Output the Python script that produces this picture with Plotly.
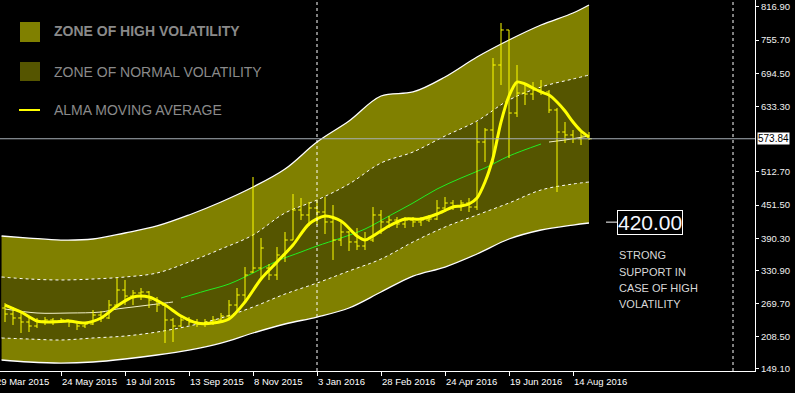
import plotly.graph_objects as go
import pandas as pd

# ---------------- data ----------------
bar_dates = pd.date_range("2015-04-05", periods=74, freq="7D")
bar_open = [261.6, 250.5, 243.2, 235.8, 228.4, 237.6, 239.5, 237.6, 239.5, 235.8,
            228.4, 232.1, 248.7, 243.2, 267.1, 294.8, 283.7, 289.3, 291.1, 276.4,
            267.1, 239.5, 228.4, 239.5, 235.8, 232.1, 235.8, 239.5, 246.8, 267.1,
            285.6, 328.0, 335.4, 335.4, 322.5, 359.4, 387.0, 442.4, 433.2, 446.1,
            438.7, 420.3, 387.0, 401.8, 383.4, 376.0, 387.0, 433.2, 420.3, 423.9,
            416.6, 423.9, 420.3, 423.9, 425.8, 446.1, 455.3, 449.8, 455.3, 447.9,
            567.8, 590.0, 709.9, 774.5, 621.3, 658.2, 656.4, 663.8, 660.1, 626.9,
            586.3, 580.8, 573.8, 578.9]
bar_high = [270.8, 263.4, 252.4, 245.0, 243.2, 245.0, 243.2, 243.2, 239.5, 235.8,
            235.8, 257.9, 256.1, 276.4, 316.9, 313.3, 294.8, 298.5, 293.0, 281.9,
            270.8, 243.2, 246.8, 245.0, 241.3, 241.3, 246.8, 252.4, 276.4, 298.5,
            337.2, 503.3, 390.7, 342.8, 374.1, 401.8, 471.9, 464.5, 457.2, 460.8,
            466.4, 451.6, 422.1, 403.7, 409.2, 401.8, 447.9, 442.4, 431.3, 429.5,
            429.5, 429.5, 429.5, 433.2, 460.8, 466.4, 460.8, 460.8, 464.5, 604.7,
            593.7, 722.8, 787.4, 774.5, 709.9, 673.0, 678.5, 682.2, 663.8, 630.6,
            604.7, 590.0, 590.0, 586.3]
bar_low = [235.8, 230.2, 215.5, 217.3, 224.7, 230.2, 230.2, 233.9, 226.6, 221.0,
           224.7, 230.2, 235.8, 241.3, 261.6, 267.1, 267.1, 276.4, 261.6, 254.2,
           197.0, 198.9, 226.6, 230.2, 226.6, 226.6, 230.2, 233.9, 243.2, 254.2,
           270.8, 326.2, 316.9, 313.3, 313.3, 346.5, 387.0, 423.9, 412.9, 414.7,
           398.1, 350.2, 376.0, 366.8, 368.6, 368.6, 383.4, 398.1, 409.2, 409.2,
           409.2, 411.0, 412.9, 420.3, 423.9, 438.7, 442.4, 440.5, 438.7, 442.4,
           530.9, 529.1, 673.0, 538.3, 614.0, 636.1, 645.3, 654.5, 621.3, 475.6,
           566.0, 566.0, 562.3, 571.5]
bar_close = [250.5, 243.2, 235.8, 228.4, 237.6, 239.5, 237.6, 239.5, 235.8, 228.4,
             232.1, 248.7, 243.2, 267.1, 294.8, 283.7, 289.3, 291.1, 276.4, 267.1,
             239.5, 228.4, 239.5, 235.8, 232.1, 235.8, 239.5, 246.8, 267.1, 285.6,
             322.5, 335.4, 372.3, 322.5, 359.4, 387.0, 442.4, 433.2, 446.1, 438.7,
             420.3, 387.0, 401.8, 383.4, 376.0, 387.0, 433.2, 420.3, 423.9, 416.6,
             423.9, 420.3, 423.9, 425.8, 446.1, 455.3, 449.8, 455.3, 447.9, 567.8,
             590.0, 709.9, 774.5, 621.3, 658.2, 656.4, 663.8, 660.1, 626.9, 586.3,
             580.8, 573.8, 578.9, 573.84]

band_dates = ["2015-04-02", "2015-04-26", "2015-05-24", "2015-06-21", "2015-07-19",
              "2015-08-16", "2015-09-13", "2015-10-11", "2015-11-08", "2015-12-06",
              "2016-01-03", "2016-01-31", "2016-02-28", "2016-03-27", "2016-04-24",
              "2016-05-22", "2016-06-19", "2016-07-17", "2016-08-14", "2016-08-28"]
outer_upper = [394.4, 390.7, 387.0, 388.9, 400.0, 412.9, 433.2, 457.2, 484.8, 518.0,
               567.8, 606.6, 652.7, 660.1, 687.8, 724.6, 756.0, 783.7, 805.8, 820.6]
inner_upper = [318.8, 315.1, 313.3, 315.1, 318.8, 326.2, 346.5, 370.4, 396.3, 436.9,
               460.8, 490.4, 529.1, 549.4, 578.9, 606.6, 645.3, 669.3, 684.1, 691.4]
inner_lower = [206.3, 204.4, 202.6, 206.3, 209.9, 217.3, 228.4, 243.2, 263.4, 287.4,
               307.7, 329.9, 352.0, 383.4, 411.0, 433.2, 455.3, 479.3, 490.4, 494.0]
outer_lower = [165.7, 162.0, 160.1, 162.0, 167.5, 174.9, 184.1, 197.0, 215.5, 232.1,
               245.0, 261.6, 291.1, 320.6, 337.2, 361.2, 388.9, 405.5, 414.7, 418.4]

alma_dates = ["2015-04-05", "2015-04-19", "2015-05-03", "2015-05-17", "2015-05-31",
              "2015-06-14", "2015-06-28", "2015-07-12", "2015-07-26", "2015-08-09",
              "2015-08-23", "2015-09-06", "2015-09-20", "2015-10-04", "2015-10-18",
              "2015-11-01", "2015-11-15", "2015-11-29", "2015-12-13", "2015-12-27",
              "2016-01-10", "2016-01-24", "2016-02-07", "2016-02-14", "2016-02-21",
              "2016-03-06", "2016-03-20", "2016-04-03", "2016-04-17", "2016-05-01",
              "2016-05-08", "2016-05-15", "2016-05-22", "2016-05-29", "2016-06-05",
              "2016-06-12", "2016-06-19", "2016-06-26", "2016-07-03", "2016-07-10",
              "2016-07-17", "2016-07-24", "2016-07-31", "2016-08-07", "2016-08-14",
              "2016-08-21", "2016-08-28"]
alma_values = [267.1, 254.2, 237.6, 235.8, 237.6, 233.9, 243.2, 265.3, 281.9, 281.9,
               267.1, 246.8, 233.9, 233.9, 241.3, 272.7, 315.1, 346.5, 377.8, 416.6,
               431.3, 422.1, 394.4, 387.0, 394.4, 412.9, 425.8, 425.8, 435.0, 447.9,
               449.8, 453.5, 464.5, 494.0, 538.3, 604.7, 652.7, 678.5, 674.8, 667.5,
               660.1, 654.5, 641.6, 625.0, 604.7, 588.1, 577.1]

mid_left_dates = ["2015-04-05", "2015-05-03", "2015-05-31", "2015-06-28", "2015-07-12",
                  "2015-07-26", "2015-08-09", "2015-08-23", "2015-08-30"]
mid_left_values = [259.8, 252.4, 252.4, 254.2, 259.8, 263.4, 267.1, 270.8, 272.7]
mid_green_dates = ["2015-09-06", "2015-09-27", "2015-10-18", "2015-11-08", "2015-11-29",
                   "2015-12-20", "2016-01-03", "2016-01-24", "2016-02-14", "2016-03-06",
                   "2016-03-27", "2016-04-17", "2016-05-08", "2016-05-29", "2016-06-19",
                   "2016-07-17"]
mid_green_values = [280.0, 293.0, 305.9, 326.2, 348.3, 364.9, 376.0, 390.7, 407.3, 431.3,
                    455.3, 481.1, 501.4, 519.9, 542.0, 564.1]
mid_right_dates = ["2016-07-24", "2016-08-07", "2016-08-28"]
mid_right_values = [567.8, 571.5, 578.9]

y_tick_values = [816.90, 755.70, 694.50, 633.30, 512.70, 451.50, 390.30, 330.90,
                 269.70, 208.50, 149.10]
x_tick_dates = ["2015-05-24", "2015-07-19", "2015-09-13", "2015-11-08", "2016-01-03",
                "2016-02-28", "2016-04-24", "2016-06-19", "2016-08-14"]
x_tick_labels = ["24 May 2015", "19 Jul 2015", "13 Sep 2015", "8 Nov 2015", "3 Jan 2016",
                 "28 Feb 2016", "24 Apr 2016", "19 Jun 2016", "14 Aug 2016"]
first_label = "29 Mar 2015"
current_price = 573.84
support_level = 420.00
separator_dates = ["2016-01-03", "2017-01-01"]

# ---------------- styling helpers ----------------
W, H = 755.0, 371.0
def px(x):
    return x / W
def py(y):
    return 1 - y / H

HIGH = "#808000"
NORMAL = "#555500"
FONT = "Liberation Sans"
X_RANGE = ["2015-03-31 15:00", "2017-01-20 06:00"]
Y_RANGE = [145.4, 829.8]

fig = go.Figure()

# high-volatility zone (base subplot, drawn underneath)
fig.add_trace(go.Scatter(x=band_dates, y=outer_lower, mode="lines",
                         line=dict(width=0, shape="spline"), hoverinfo="skip", showlegend=False))
fig.add_trace(go.Scatter(x=band_dates, y=outer_upper, mode="lines", fill="tonexty",
                         fillcolor=HIGH, line=dict(width=0, shape="spline"),
                         hoverinfo="skip", showlegend=False))
# normal-volatility zone
fig.add_trace(go.Scatter(x=band_dates, y=inner_lower, mode="lines",
                         line=dict(width=0, shape="spline"), hoverinfo="skip", showlegend=False))
fig.add_trace(go.Scatter(x=band_dates, y=inner_upper, mode="lines", fill="tonexty",
                         fillcolor=NORMAL, line=dict(width=0, shape="spline"),
                         hoverinfo="skip", showlegend=False))
# band borders
for vals in (outer_upper, outer_lower):
    fig.add_trace(go.Scatter(x=band_dates, y=vals, mode="lines",
                             line=dict(color="white", width=1.3, shape="spline"),
                             hoverinfo="skip", showlegend=False))
for vals in (inner_upper, inner_lower):
    fig.add_trace(go.Scatter(x=band_dates, y=vals, mode="lines",
                             line=dict(color="white", width=1, dash="3px,3px", shape="spline"),
                             hoverinfo="skip", showlegend=False))

# mid line (three coloured segments)
fig.add_trace(go.Scatter(x=mid_left_dates, y=mid_left_values, mode="lines",
                         line=dict(color="#f2f0c8", width=1, shape="spline"),
                         hoverinfo="skip", showlegend=False))
fig.add_trace(go.Scatter(x=mid_green_dates, y=mid_green_values, mode="lines",
                         line=dict(color="#22ee22", width=1, shape="spline"),
                         hoverinfo="skip", showlegend=False))
fig.add_trace(go.Scatter(x=mid_right_dates, y=mid_right_values, mode="lines",
                         line=dict(color="#f2f0c8", width=1),
                         hoverinfo="skip", showlegend=False))

# weekly OHLC bars (overlay subplot, drawn above the zones)
fig.add_trace(go.Ohlc(x=bar_dates, open=bar_open, high=bar_high, low=bar_low, close=bar_close,
                      increasing=dict(line=dict(color="#ffff00", width=1)),
                      decreasing=dict(line=dict(color="#ffff00", width=1)),
                      tickwidth=0.35, hoverinfo="skip", showlegend=False,
                      xaxis="x2", yaxis="y2"))

# ALMA moving average
fig.add_trace(go.Scatter(x=alma_dates, y=alma_values, mode="lines",
                         line=dict(color="#ffff00", width=3, shape="spline", smoothing=0.8),
                         hoverinfo="skip", showlegend=False, xaxis="x2", yaxis="y2"))

shapes = []
for d in separator_dates:
    shapes.append(dict(type="line", xref="x", yref="paper", x0=d, x1=d, y0=0, y1=1,
                       line=dict(color="white", width=1, dash="3px,3px"), layer="above"))
shapes.append(dict(type="line", xref="paper", yref="y", x0=0, x1=1,
                   y0=current_price, y1=current_price,
                   line=dict(color="#a8b0b8", width=1), layer="above"))
# legend swatches
shapes.append(dict(type="rect", xref="paper", yref="paper", x0=px(20), x1=px(40),
                   y0=py(42), y1=py(22), fillcolor=HIGH, line=dict(width=0)))
shapes.append(dict(type="rect", xref="paper", yref="paper", x0=px(20), x1=px(40),
                   y0=py(81), y1=py(62), fillcolor=NORMAL, line=dict(width=0)))
shapes.append(dict(type="line", xref="paper", yref="paper", x0=px(19), x1=px(40),
                   y0=py(110), y1=py(110), line=dict(color="#ffff00", width=2)))
# support marker
shapes.append(dict(type="line", xref="paper", yref="y", x0=px(606), x1=px(617),
                   y0=support_level, y1=support_level, line=dict(color="white", width=1)))

annotations = []
legend_items = [("<b>ZONE OF HIGH VOLATILITY</b>", 31),
                ("ZONE OF NORMAL VOLATILITY", 72),
                ("ALMA MOVING AVERAGE", 110)]
for txt, yy in legend_items:
    annotations.append(dict(text=txt, xref="paper", yref="paper", x=px(52), y=py(yy),
                            xanchor="left", yanchor="middle", showarrow=False,
                            font=dict(family=FONT, size=14, color="#8a8a8a")))

for d, lab in zip(x_tick_dates, x_tick_labels):
    annotations.append(dict(text=lab, xref="x", yref="paper", x=d, y=0, xanchor="left",
                            yanchor="top", yshift=-3, xshift=-1, showarrow=False,
                            font=dict(family=FONT, size=9.5, color="white")))
# first date label is partly hidden behind the left edge, as in the original
annotations.append(dict(text=first_label, xref="paper", yref="paper", x=px(-3), y=0,
                        xanchor="left", yanchor="top", yshift=-3, xshift=-3, showarrow=False,
                        font=dict(family=FONT, size=9.5, color="white")))

annotations.append(dict(text=f"{current_price:.2f}", xref="paper", yref="y", x=1,
                        y=current_price, xanchor="left", yanchor="middle", xshift=2,
                        showarrow=False, bgcolor="white", borderpad=0,
                        font=dict(family=FONT, size=10, color="black")))
annotations.append(dict(text=f"{support_level:.2f}", xref="paper", yref="y", x=px(617),
                        y=support_level, xanchor="left", yanchor="middle", showarrow=False,
                        bgcolor="black", bordercolor="white", borderwidth=1, borderpad=0,
                        font=dict(family=FONT, size=21, color="#f4f6ff")))
support_lines = ["STRONG", "SUPPORT IN", "CASE OF HIGH", "VOLATILITY"]
for i, t in enumerate(support_lines):
    annotations.append(dict(text=t, xref="paper", yref="paper", x=px(617), y=py(255.5 + 16 * i),
                            xanchor="left", yanchor="middle", showarrow=False,
                            font=dict(family=FONT, size=11, color="#d8d8d8")))

fig.update_layout(
    width=795, height=393,
    margin=dict(l=0, r=40, t=0, b=22),
    paper_bgcolor="black", plot_bgcolor="black",
    showlegend=False,
    shapes=shapes, annotations=annotations,
    xaxis=dict(type="date", range=X_RANGE,
               rangeslider=dict(visible=False), showgrid=False, zeroline=False,
               showline=True, linecolor="white", linewidth=1,
               tickvals=x_tick_dates, ticks="outside", ticklen=4, tickcolor="white",
               showticklabels=False),
    yaxis=dict(side="right", range=Y_RANGE, showgrid=False, zeroline=False,
               showline=True, linecolor="white", linewidth=1,
               tickvals=y_tick_values, ticktext=[f"{v:.2f}" for v in y_tick_values],
               ticks="outside", ticklen=3, tickcolor="white",
               tickfont=dict(family=FONT, size=9.5, color="#f0f0f0")),
    xaxis2=dict(type="date", range=X_RANGE, overlaying="x", visible=False,
                rangeslider=dict(visible=False)),
    yaxis2=dict(range=Y_RANGE, overlaying="y", side="right", visible=False),
)

fig.write_html("out.html", config={"displayModeBar": False},
               post_script="document.body.style.margin='0';")
